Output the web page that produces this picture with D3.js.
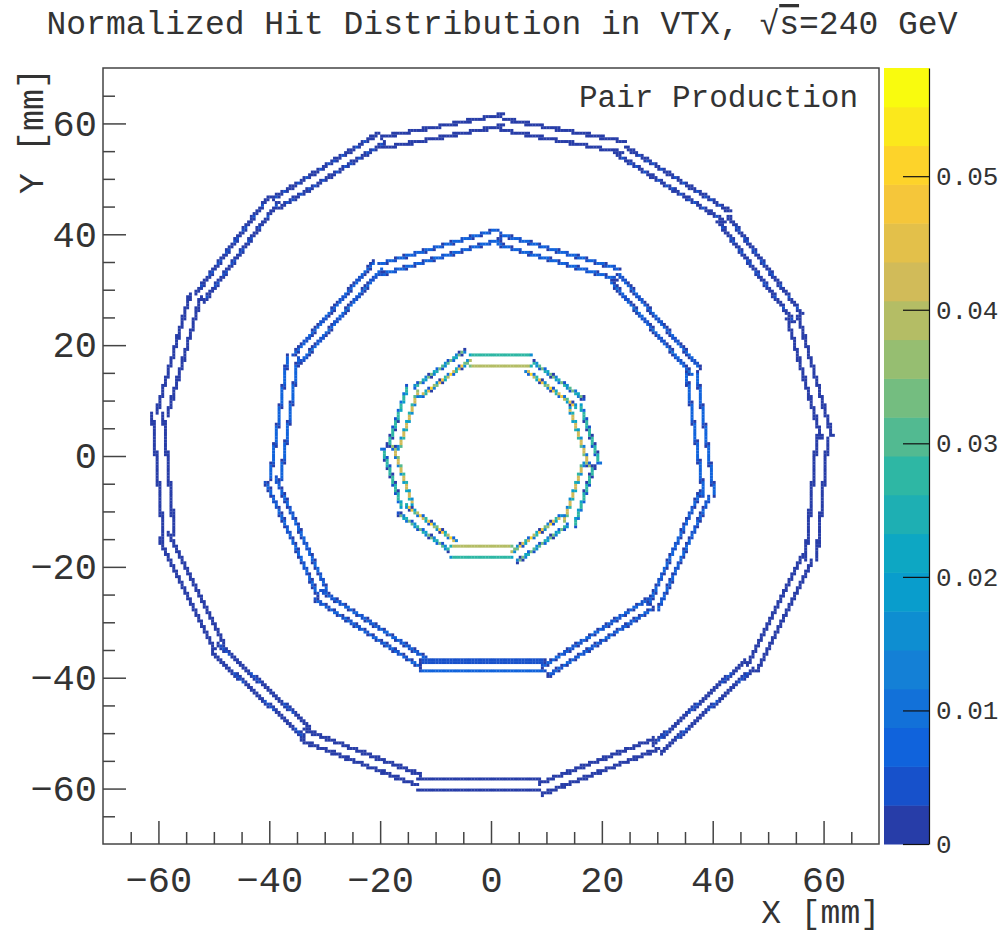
<!DOCTYPE html>
<html>
<head>
<meta charset="utf-8">
<script src="https://cdn.jsdelivr.net/npm/d3@7"></script>
<style>
  body { margin: 0; background: #fff; }
  text { font-family: "Liberation Mono", "DejaVu Sans Mono", monospace; fill: #333; }
</style>
</head>
<body>
<svg id="chart" width="1005" height="933"></svg>
<script>
// ---- detector layout (double-sided ladders, three layers) ----
const layerNames     = ["VTX 1/2", "VTX 3/4", "VTX 5/6"];
const ladderCounts   = [10, 11, 17];
const planeRadii     = [[16.2, 18.2], [37.0, 38.9], [58.2, 60.2]];   // mm, inner / outer sensor plane
const ladderWidths   = [11.2, 22.5, 22.4];                            // mm
const ladderShifts   = [1.7, 1.5, 2.2];                               // mm, windmill offset
const firstLadderPhi = [-90, -90, -90];                               // deg, normal of ladder 0
// normalized hits per mm of sensor length, inner / outer plane
const hitDensity     = [[0.080, 0.054], [0.0140, 0.0132], [0.0050, 0.0050]];

// ---- axes ----
const axisRange  = [-70, 70];
const nBins      = 280;
const majorTicks = [-60, -40, -20, 0, 20, 40, 60];
const minorTicks = [-65, -55, -50, -45, -35, -30, -25, -15, -10, -5, 5, 10, 15, 25, 30, 35, 45, 50, 55, 65];
const zTicks     = [0, 0.01, 0.02, 0.03, 0.04, 0.05];
const zMax       = 0.0581;
const nContours  = 20;

// ---- kBird palette ----
const birdStops = [0.0, 0.125, 0.25, 0.375, 0.5, 0.625, 0.75, 0.875, 1.0];
const birdRed   = [0.2082, 0.0592, 0.0780, 0.0232, 0.1802, 0.5301, 0.8186, 0.9956, 0.9764];
const birdGreen = [0.1664, 0.3599, 0.5041, 0.6419, 0.7178, 0.7492, 0.7328, 0.7862, 0.9832];
const birdBlue  = [0.5293, 0.8684, 0.8385, 0.7914, 0.6425, 0.4662, 0.3499, 0.1968, 0.0539];

const bird = d3.scaleLinear()
  .domain(birdStops)
  .range(birdStops.map((s, i) => d3.rgb(birdRed[i] * 255, birdGreen[i] * 255, birdBlue[i] * 255)))
  .interpolate(d3.interpolateRgb);
const bandColors = d3.range(nContours).map(j => bird(Math.floor((j + 0.99) * 255 / nContours) / 254));

// ---- frame geometry ----
const frame = { left: 103, right: 879, top: 68, bottom: 844 };
const pal = { left: 884, right: 929 };

const x = d3.scaleLinear().domain(axisRange).range([frame.left, frame.right]);
const y = d3.scaleLinear().domain(axisRange).range([frame.bottom, frame.top]);
const z = d3.scaleLinear().domain([0, zMax]).range([frame.bottom, frame.top]);
const colour = d3.scaleQuantize().domain([0, zMax]).range(bandColors);

// ---- fill the hit histogram along every sensor plane ----
const binW = (axisRange[1] - axisRange[0]) / nBins;
const hist = new Float64Array(nBins * nBins);
const ds = 0.005;
const depths = [-0.03, -0.01, 0.01, 0.03];
ladderCounts.forEach((n, L) => {
  const w = ladderWidths[L];
  const steps = Math.round(w / ds);
  for (let k = 0; k < n; k++) {
    const phi = (firstLadderPhi[L] + k * 360 / n) * Math.PI / 180;
    const nx = Math.cos(phi), ny = Math.sin(phi);
    const tx = Math.sin(phi), ty = -Math.cos(phi);
    planeRadii[L].forEach((r, p) => {
      const weight = hitDensity[L][p] * ds / depths.length;
      for (const dz of depths) {
        for (let i = 0; i < steps; i++) {
          const u = -w / 2 + (i + 0.5) * ds + ladderShifts[L];
          const hx = (r + dz) * nx + u * tx;
          const hy = (r + dz) * ny + u * ty;
          const ix = Math.floor((hx - axisRange[0]) / binW);
          const iy = Math.floor((hy - axisRange[0]) / binW);
          if (ix >= 0 && ix < nBins && iy >= 0 && iy < nBins) hist[iy * nBins + ix] += weight;
        }
      }
    });
  }
});
const cells = [];
for (let iy = 0; iy < nBins; iy++) {
  for (let ix = 0; ix < nBins; ix++) {
    const v = hist[iy * nBins + ix];
    if (v > 1e-7) cells.push({ x0: axisRange[0] + ix * binW, y0: axisRange[0] + iy * binW, v });
  }
}

const svg = d3.select("#chart");

// ---- cells ----
svg.append("g").attr("class", "cells")
  .selectAll("rect").data(cells).join("rect")
  .attr("x", d => x(d.x0))
  .attr("y", d => y(d.y0 + binW))
  .attr("width", d => x(d.x0 + binW) - x(d.x0) + 0.2)
  .attr("height", d => y(d.y0) - y(d.y0 + binW) + 0.2)
  .attr("fill", d => colour(d.v));

// ---- frame ----
svg.append("rect")
  .attr("x", frame.left).attr("y", frame.top)
  .attr("width", frame.right - frame.left).attr("height", frame.bottom - frame.top)
  .attr("fill", "none").attr("stroke", "#444").attr("stroke-width", 1.5);

// ---- x axis ----
const gxMinor = svg.append("g").attr("transform", `translate(0,${frame.bottom})`)
  .call(d3.axisBottom(x).tickValues(minorTicks).tickSizeInner(-12).tickSizeOuter(0).tickFormat(""));
const gx = svg.append("g").attr("transform", `translate(0,${frame.bottom})`)
  .call(d3.axisBottom(x).tickValues(majorTicks).tickSizeInner(-23).tickSizeOuter(0).tickPadding(22));
// ---- y axis ----
const gyMinor = svg.append("g").attr("transform", `translate(${frame.left},0)`)
  .call(d3.axisLeft(y).tickValues(minorTicks).tickSizeInner(-12).tickSizeOuter(0).tickFormat(""));
const gy = svg.append("g").attr("transform", `translate(${frame.left},0)`)
  .call(d3.axisLeft(y).tickValues(majorTicks).tickSizeInner(-23).tickSizeOuter(0).tickPadding(6));

[gxMinor, gx, gyMinor, gy].forEach(g => {
  g.select(".domain").remove();
  g.selectAll(".tick line").attr("stroke", "#444").attr("stroke-width", 1.5);
  g.selectAll(".tick text").attr("font-size", 37).attr("fill", "#333")
    .style("font-family", '"Liberation Mono", monospace');
});

// ---- colour palette ----
svg.append("g").attr("class", "palette")
  .selectAll("rect").data(d3.range(nContours)).join("rect")
  .attr("x", pal.left)
  .attr("y", j => z((j + 1) * zMax / nContours))
  .attr("width", pal.right - pal.left)
  .attr("height", j => z(j * zMax / nContours) - z((j + 1) * zMax / nContours) + 0.5)
  .attr("fill", j => bandColors[j]);
const gz = svg.append("g").attr("transform", `translate(${pal.right},0)`)
  .call(d3.axisRight(z).tickValues(zTicks).tickSizeInner(-26).tickSizeOuter(0).tickPadding(7)
    .tickFormat(d => d === 0 ? "0" : d3.format(".2f")(d)));
gz.select(".domain").attr("stroke", "#111").attr("stroke-width", 1.2);
gz.selectAll(".tick line").attr("stroke", "#111").attr("stroke-width", 1.2);
gz.selectAll(".tick text").attr("font-size", 26).attr("fill", "#333")
  .style("font-family", '"Liberation Mono", monospace');

// ---- titles ----
const title = svg.append("text")
  .attr("x", 502).attr("y", 34).attr("text-anchor", "middle").attr("font-size", 33);
title.append("tspan").text("Normalized Hit Distribution in VTX, √");
title.append("tspan").style("text-decoration", "overline").text("s");
title.append("tspan").text("=240 GeV");

svg.append("text").attr("x", 858).attr("y", 107).attr("text-anchor", "end")
  .attr("font-size", 31).text("Pair Production");

svg.append("text").attr("x", 880).attr("y", 923).attr("text-anchor", "end")
  .attr("font-size", 33).text("X [mm]");

svg.append("text").attr("transform", "translate(43,68) rotate(-90)")
  .attr("text-anchor", "end").attr("font-size", 35).text("Y [mm]");
</script>
</body>
</html>
